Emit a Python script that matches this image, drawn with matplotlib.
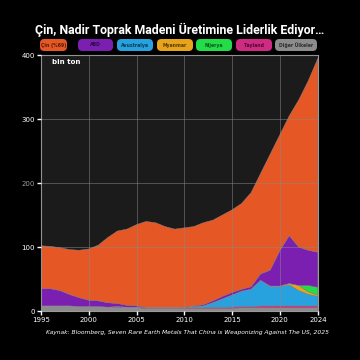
import matplotlib
matplotlib.use("Agg")
from matplotlib import pyplot as plt
from matplotlib.patches import FancyBboxPatch
import numpy as np

years = list(range(1995, 2025))

# bin ton, okunan degerler (alttan uste yigin sirasi)
diger = [8, 8, 8, 8, 7, 7, 7, 6, 6, 5, 5, 4, 4, 4, 4, 4,
         4, 4, 4, 4, 4, 5, 5, 5, 5, 5, 5, 5, 5, 5]
tayland = [0, 0, 0, 0, 0, 0, 0, 0, 1, 1, 1, 1, 1, 1, 1, 1,
           1, 1, 2, 2, 2, 2, 2, 3, 3, 3, 3, 3, 3, 3]
avustralya = [0, 0, 0, 0, 0, 0, 0, 0, 0, 0, 0, 0, 0, 0, 0, 0,
              2, 3, 7, 13, 19, 24, 27, 40, 30, 30, 33, 24, 18, 15]
myanmar = [0, 0, 0, 0, 0, 0, 0, 0, 0, 0, 0, 0, 0, 0, 0, 0,
           0, 0, 0, 0, 0, 0, 0, 0, 1, 1, 2, 8, 4, 2]
nijerya = [0, 0, 0, 0, 0, 0, 0, 0, 0, 0, 0, 0, 0, 0, 0, 0,
           0, 0, 0, 0, 0, 0, 0, 0, 0, 0, 0, 0, 10, 12]
abd = [27, 27, 24, 18, 14, 10, 9, 7, 5, 3, 2, 1, 1, 1, 1, 1,
       1, 2, 3, 4, 4, 3, 4, 10, 25, 55, 75, 60, 55, 55]
toplam = [102, 101, 99, 96, 95, 97, 103, 115, 125, 128, 135, 140, 138, 132, 128, 130,
          132, 138, 142, 150, 158, 168, 185, 215, 245, 275, 305, 330, 360, 395]

cin = [t - (d + ta + av + m + n + a) for t, d, ta, av, m, n, a in
       zip(toplam, diger, tayland, avustralya, myanmar, nijerya, abd)]

labels = ["Çin (%69)", "ABD", "Avustralya", "Myanmar", "Nijerya", "Tayland", "Diğer Ülkeler"]
colors = ["#e65726", "#7a1fb0", "#27a2df", "#e6a41b", "#22dc48", "#cf2b82", "#8c8c8c"]
text_colors = ["#5a1a08", "#2c0a45", "#0b3a55", "#5a3c05", "#0a5a1c", "#4f0a30", "#2e2e2e"]

col = dict(zip(labels, colors))

fig = plt.figure(figsize=(3.6, 3.6), dpi=100, facecolor="black")
ax = fig.add_axes([0.114, 0.136, 0.769, 0.711])
ax.set_facecolor("#1b1b1b")

series = [diger, tayland, avustralya, myanmar, nijerya, abd, cin]
series_colors = [col["Diğer Ülkeler"], col["Tayland"], col["Avustralya"], col["Myanmar"],
                 col["Nijerya"], col["ABD"], col["Çin (%69)"]]
ax.stackplot(years, *series, colors=series_colors, linewidth=0.3, edgecolors=series_colors)

ax.set_xlim(1995, 2024)
ax.set_ylim(0, 400)
ax.set_xticks([1995, 2000, 2005, 2010, 2015, 2020, 2024])
ax.set_yticks([0, 100, 200, 300, 400])
ax.tick_params(colors="white", labelsize=5, length=3, width=1, pad=1.5)
for lab in ax.get_yticklabels():
    if lab.get_text() == "200":
        lab.set_color("#9a9a9a")

ax.grid(True, color="#8a8a8a", linewidth=0.5, alpha=0.7)
ax.set_axisbelow(False)
for s in ax.spines.values():
    s.set_color("#9a9a9a")
    s.set_linewidth(0.8)

ax.text(0.04, 0.985, "bin ton", transform=ax.transAxes, color="white",
        fontsize=5, fontweight="bold", va="top", ha="left")

fig.text(0.5, 0.917, "Çin, Nadir Toprak Madeni Üretimine Liderlik Ediyor…",
         color="white", fontsize=8.9, fontweight="bold", ha="center", va="center",
         family=["Liberation Sans Narrow", "Roboto", "DejaVu Sans"])

# legend hapları
pill_x = [40, 78, 117, 157, 196, 236, 275]
pill_w = [27, 35, 36, 36, 36, 36, 42]
for i, lab in enumerate(labels):
    x0 = pill_x[i] / 360
    w = pill_w[i] / 360
    y0 = (360 - 51) / 360
    h = 12 / 360
    box = FancyBboxPatch((x0, y0), w, h, boxstyle="round,pad=0,rounding_size=0.012",
                         transform=fig.transFigure, facecolor=colors[i], edgecolor="none")
    fig.patches.append(box)
    fig.text(x0 + w / 2, y0 + h / 2, lab, color=text_colors[i], fontsize=3.3,
             ha="center", va="center", fontweight="bold",
             family=["Liberation Sans Narrow", "DejaVu Sans"])

fig.text(0.522, 0.077,
         "Kaynak: Bloomberg, Seven Rare Earth Metals That China is Weaponizing Against The US, 2025",
         color="white", fontsize=4.3, style="italic", ha="center", va="center")

fig.savefig("out.png", dpi=100, facecolor="black")
